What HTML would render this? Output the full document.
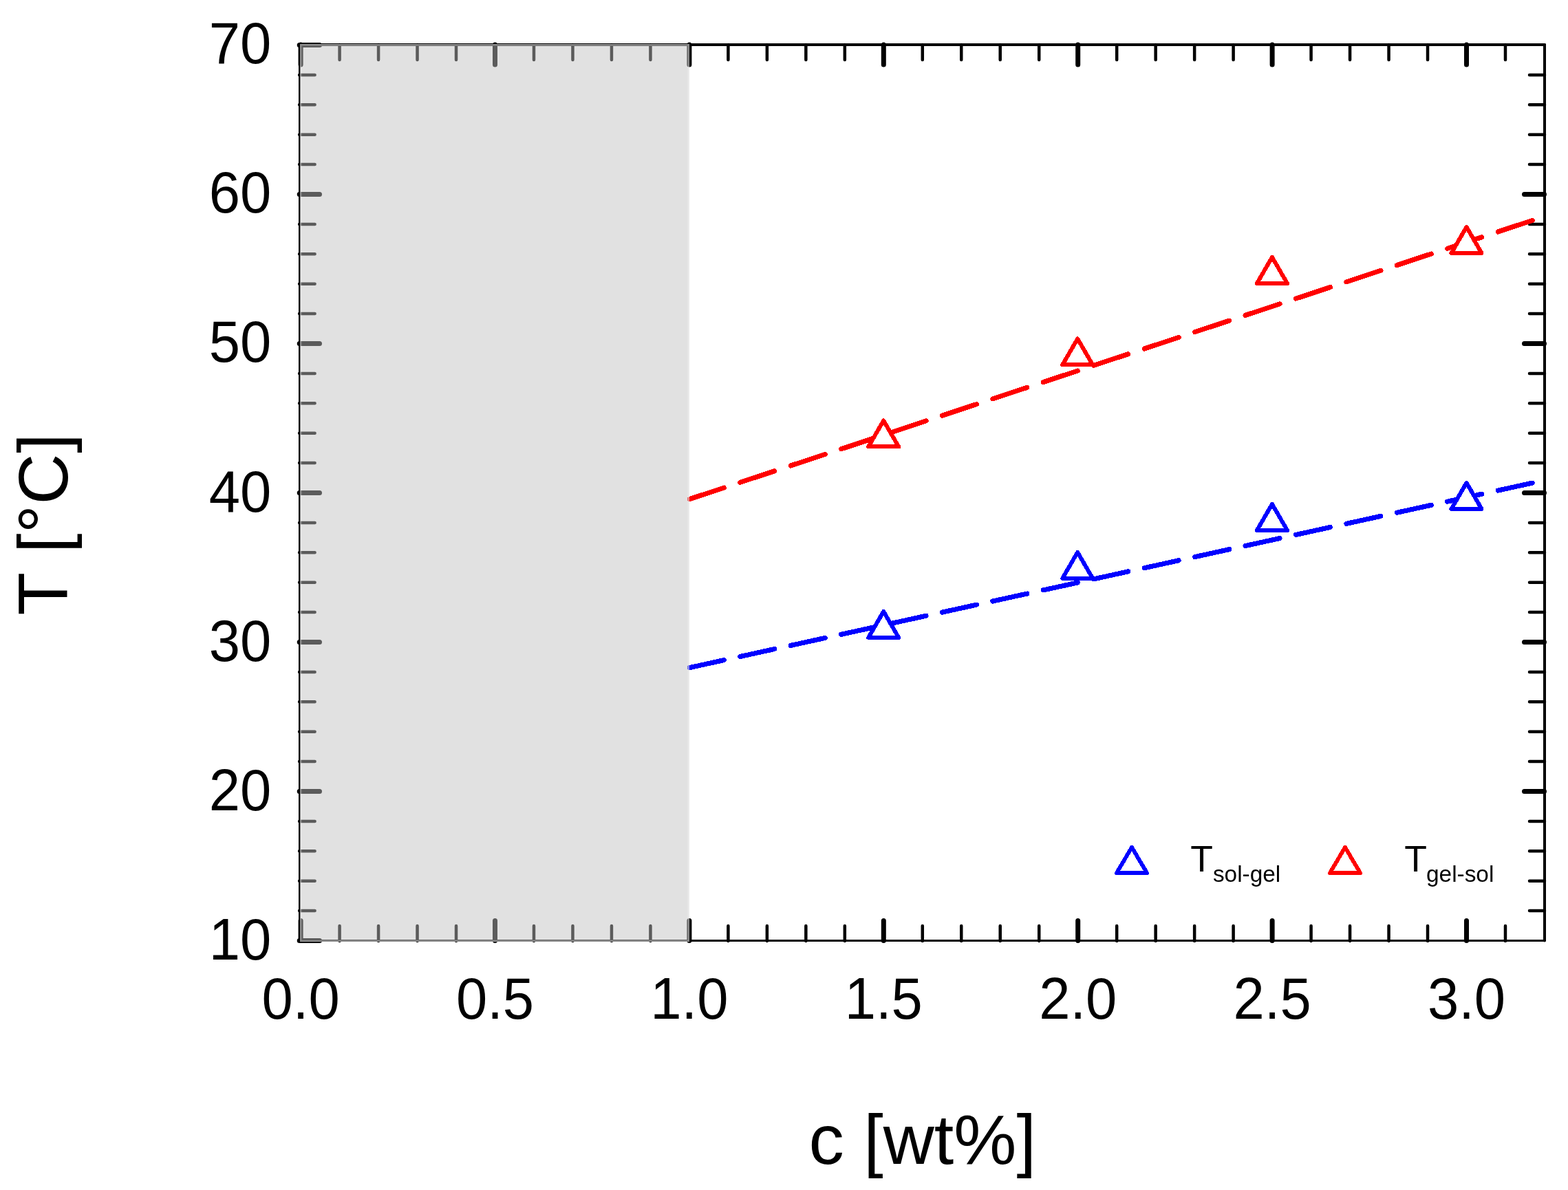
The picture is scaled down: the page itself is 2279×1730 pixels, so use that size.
<!DOCTYPE html>
<html lang="en"><head><meta charset="utf-8">
<title>T [°C] vs c [wt%]</title>
<style>
html,body{margin:0;padding:0;background:#fff;}
body{width:2279px;height:1730px;overflow:hidden;}
svg{display:block;}
text{font-family:"Liberation Sans", sans-serif;fill:#000;}
.tick{font-size:81.4px;}
.title{font-size:102.5px;}
.leg{font-size:53.5px;}
.sub{font-size:33.4px;}
</style></head><body>
<svg width="2279" height="1730" viewBox="0 0 2279 1730" role="img" aria-label="Transition temperature T versus concentration c">
<rect x="0" y="0" width="2279" height="1730" fill="#ffffff"/>
<g id="axes" stroke="#000" fill="none" stroke-linecap="round">
<line x1="435.00" y1="65.00" x2="2245.00" y2="65.00" stroke-width="4"/>
<line x1="435.00" y1="1367.50" x2="2245.00" y2="1367.50" stroke-width="3"/>
<line x1="435.50" y1="65.00" x2="435.50" y2="1367.50" stroke-width="3"/>
<line x1="2245.00" y1="65.00" x2="2245.00" y2="1367.50" stroke-width="4"/>
</g>
<path id="major-ticks" d="M437.10 1367.50V1338.50M437.10 65.00V94.00M719.50 1367.50V1338.50M719.50 65.00V94.00M1001.90 1367.50V1338.50M1001.90 65.00V94.00M1284.30 1367.50V1338.50M1284.30 65.00V94.00M1566.70 1367.50V1338.50M1566.70 65.00V94.00M1849.10 1367.50V1338.50M1849.10 65.00V94.00M2131.50 1367.50V1338.50M2131.50 65.00V94.00M435.20 1367.50H464.50M435.20 1150.50H464.50M2244.50 1150.50H2215.50M435.20 933.50H464.50M2244.50 933.50H2215.50M435.20 716.50H464.50M2244.50 716.50H2215.50M435.20 499.50H464.50M2244.50 499.50H2215.50M435.20 282.50H464.50M2244.50 282.50H2215.50M435.20 65.50H464.50" stroke="#000" stroke-width="7.0" stroke-linecap="round" fill="none"/>
<path id="minor-ticks" d="M493.58 1368.00V1346.00M493.58 65.00V87.00M550.06 1368.00V1346.00M550.06 65.00V87.00M606.54 1368.00V1346.00M606.54 65.00V87.00M663.02 1368.00V1346.00M663.02 65.00V87.00M775.98 1368.00V1346.00M775.98 65.00V87.00M832.46 1368.00V1346.00M832.46 65.00V87.00M888.94 1368.00V1346.00M888.94 65.00V87.00M945.42 1368.00V1346.00M945.42 65.00V87.00M1058.38 1368.00V1346.00M1058.38 65.00V87.00M1114.86 1368.00V1346.00M1114.86 65.00V87.00M1171.34 1368.00V1346.00M1171.34 65.00V87.00M1227.82 1368.00V1346.00M1227.82 65.00V87.00M1340.78 1368.00V1346.00M1340.78 65.00V87.00M1397.26 1368.00V1346.00M1397.26 65.00V87.00M1453.74 1368.00V1346.00M1453.74 65.00V87.00M1510.22 1368.00V1346.00M1510.22 65.00V87.00M1623.18 1368.00V1346.00M1623.18 65.00V87.00M1679.66 1368.00V1346.00M1679.66 65.00V87.00M1736.14 1368.00V1346.00M1736.14 65.00V87.00M1792.62 1368.00V1346.00M1792.62 65.00V87.00M1905.58 1368.00V1346.00M1905.58 65.00V87.00M1962.06 1368.00V1346.00M1962.06 65.00V87.00M2018.54 1368.00V1346.00M2018.54 65.00V87.00M2075.02 1368.00V1346.00M2075.02 65.00V87.00M2187.98 1368.00V1346.00M2187.98 65.00V87.00M435.10 1324.10H457.60M2245.00 1324.10H2223.00M435.10 1280.70H457.60M2245.00 1280.70H2223.00M435.10 1237.30H457.60M2245.00 1237.30H2223.00M435.10 1193.90H457.60M2245.00 1193.90H2223.00M435.10 1107.10H457.60M2245.00 1107.10H2223.00M435.10 1063.70H457.60M2245.00 1063.70H2223.00M435.10 1020.30H457.60M2245.00 1020.30H2223.00M435.10 976.90H457.60M2245.00 976.90H2223.00M435.10 890.10H457.60M2245.00 890.10H2223.00M435.10 846.70H457.60M2245.00 846.70H2223.00M435.10 803.30H457.60M2245.00 803.30H2223.00M435.10 759.90H457.60M2245.00 759.90H2223.00M435.10 673.10H457.60M2245.00 673.10H2223.00M435.10 629.70H457.60M2245.00 629.70H2223.00M435.10 586.30H457.60M2245.00 586.30H2223.00M435.10 542.90H457.60M2245.00 542.90H2223.00M435.10 456.10H457.60M2245.00 456.10H2223.00M435.10 412.70H457.60M2245.00 412.70H2223.00M435.10 369.30H457.60M2245.00 369.30H2223.00M435.10 325.90H457.60M2245.00 325.90H2223.00M435.10 239.10H457.60M2245.00 239.10H2223.00M435.10 195.70H457.60M2245.00 195.70H2223.00M435.10 152.30H457.60M2245.00 152.30H2223.00M435.10 108.90H457.60M2245.00 108.90H2223.00" stroke="#000" stroke-width="4.5" stroke-linecap="round" fill="none"/>
<path id="fit-gel-sol" d="M1002.30 725.60L1052.30 709.06M1075.73 701.31L1125.73 684.77M1149.16 677.02L1199.16 660.48M1222.59 652.73L1272.59 636.19M1296.02 628.44L1346.02 611.90M1369.45 604.15L1419.45 587.61M1442.88 579.86L1492.88 563.32M1516.31 555.57L1566.31 539.03M1589.74 531.27L1639.74 514.73M1663.17 506.98L1713.17 490.44M1736.60 482.69L1786.60 466.15M1810.03 458.40L1860.03 441.86M1883.46 434.11L1933.46 417.57M1956.89 409.82L2006.89 393.28M2030.32 385.53L2080.32 368.99M2103.75 361.24L2153.75 344.70M2177.18 336.95L2227.18 320.41" stroke="#ff0000" stroke-width="7.1" stroke-linecap="round" fill="none" shape-rendering="crispEdges"/>
<path id="fit-sol-gel" d="M1002.30 970.60L1052.30 959.64M1075.73 954.50L1125.73 943.54M1149.16 938.41L1199.16 927.45M1222.59 922.31L1272.59 911.35M1296.02 906.22L1346.02 895.26M1369.45 890.12L1419.45 879.16M1442.88 874.02L1492.88 863.06M1516.31 857.93L1566.31 846.97M1589.74 841.83L1639.74 830.87M1663.17 825.74L1713.17 814.78M1736.60 809.64L1786.60 798.68M1810.03 793.55L1860.03 782.59M1883.46 777.45L1933.46 766.49M1956.89 761.35L2006.89 750.39M2030.32 745.26L2080.32 734.30M2103.75 729.16L2153.75 718.20M2177.18 713.07L2227.18 702.11" stroke="#0000ff" stroke-width="7.1" stroke-linecap="round" fill="none" shape-rendering="crispEdges"/>
<rect id="shade" x="436.00" y="64.00" width="566.00" height="1305.20" fill="#c0c0c0" fill-opacity="0.475"/>
<rect id="shade-edge" x="437.20" y="65.20" width="563.60" height="1302.80" fill="none" stroke="#ffffff" stroke-opacity="0.3" stroke-width="2.4"/>
<g id="data-sol-gel"><path d="M1284.20 888.95L1262.20 926.95L1306.20 926.95Z" fill="#ffffff" stroke="#0000ff" stroke-width="6.0" stroke-linejoin="round" shape-rendering="crispEdges"/><path d="M1566.20 802.90L1544.20 840.90L1588.20 840.90Z" fill="#ffffff" stroke="#0000ff" stroke-width="6.0" stroke-linejoin="round" shape-rendering="crispEdges"/><path d="M1848.95 732.90L1826.95 770.90L1870.95 770.90Z" fill="#ffffff" stroke="#0000ff" stroke-width="6.0" stroke-linejoin="round" shape-rendering="crispEdges"/><path d="M2131.50 701.90L2109.50 739.90L2153.50 739.90Z" fill="#ffffff" stroke="#0000ff" stroke-width="6.0" stroke-linejoin="round" shape-rendering="crispEdges"/></g>
<g id="data-gel-sol"><path d="M1284.20 611.45L1262.20 649.45L1306.20 649.45Z" fill="#ffffff" stroke="#ff0000" stroke-width="6.0" stroke-linejoin="round" shape-rendering="crispEdges"/><path d="M1566.20 492.45L1544.20 530.45L1588.20 530.45Z" fill="#ffffff" stroke="#ff0000" stroke-width="6.0" stroke-linejoin="round" shape-rendering="crispEdges"/><path d="M1848.95 373.90L1826.95 411.90L1870.95 411.90Z" fill="#ffffff" stroke="#ff0000" stroke-width="6.0" stroke-linejoin="round" shape-rendering="crispEdges"/><path d="M2131.50 329.95L2109.50 367.95L2153.50 367.95Z" fill="#ffffff" stroke="#ff0000" stroke-width="6.0" stroke-linejoin="round" shape-rendering="crispEdges"/></g>
<g id="y-labels" class="tick" text-anchor="end">
<text transform="translate(394.2 92.00) scale(1 1.045)">70</text>
<text transform="translate(394.2 309.17) scale(1 1.045)">60</text>
<text transform="translate(394.2 526.34) scale(1 1.045)">50</text>
<text transform="translate(394.2 743.51) scale(1 1.045)">40</text>
<text transform="translate(394.2 960.68) scale(1 1.045)">30</text>
<text transform="translate(394.2 1177.85) scale(1 1.045)">20</text>
<text transform="translate(394.2 1395.02) scale(1 1.045)">10</text>
</g>
<g id="x-labels" class="tick" text-anchor="middle">
<text transform="translate(437.10 1481) scale(1 1.045)">0.0</text>
<text transform="translate(719.50 1481) scale(1 1.045)">0.5</text>
<text transform="translate(1001.90 1481) scale(1 1.045)">1.0</text>
<text transform="translate(1284.30 1481) scale(1 1.045)">1.5</text>
<text transform="translate(1566.70 1481) scale(1 1.045)">2.0</text>
<text transform="translate(1849.10 1481) scale(1 1.045)">2.5</text>
<text transform="translate(2131.50 1481) scale(1 1.045)">3.0</text>
</g>
<text id="y-title" class="title" style="letter-spacing:0.6px" transform="translate(97.9 894.5) rotate(-90)">T [°C]</text>
<text id="x-title" class="title" x="1175.6" y="1692">c [wt%]</text>
<g id="legend">
<path d="M1645.00 1231.80L1622.90 1269.20L1667.10 1269.20Z" fill="#ffffff" stroke="#0000ff" stroke-width="5.8" stroke-linejoin="round" shape-rendering="crispEdges"/>
<text class="leg" x="1730.2" y="1267">T<tspan class="sub" x="1762.9" y="1281.9">sol-gel</tspan></text>
<path d="M1955.00 1231.80L1932.90 1269.20L1977.10 1269.20Z" fill="#ffffff" stroke="#ff0000" stroke-width="5.8" stroke-linejoin="round" shape-rendering="crispEdges"/>
<text class="leg" x="2041.3" y="1267">T<tspan class="sub" x="2073.0" y="1281.9">gel-sol</tspan></text>
</g>
</svg>
</body></html>
